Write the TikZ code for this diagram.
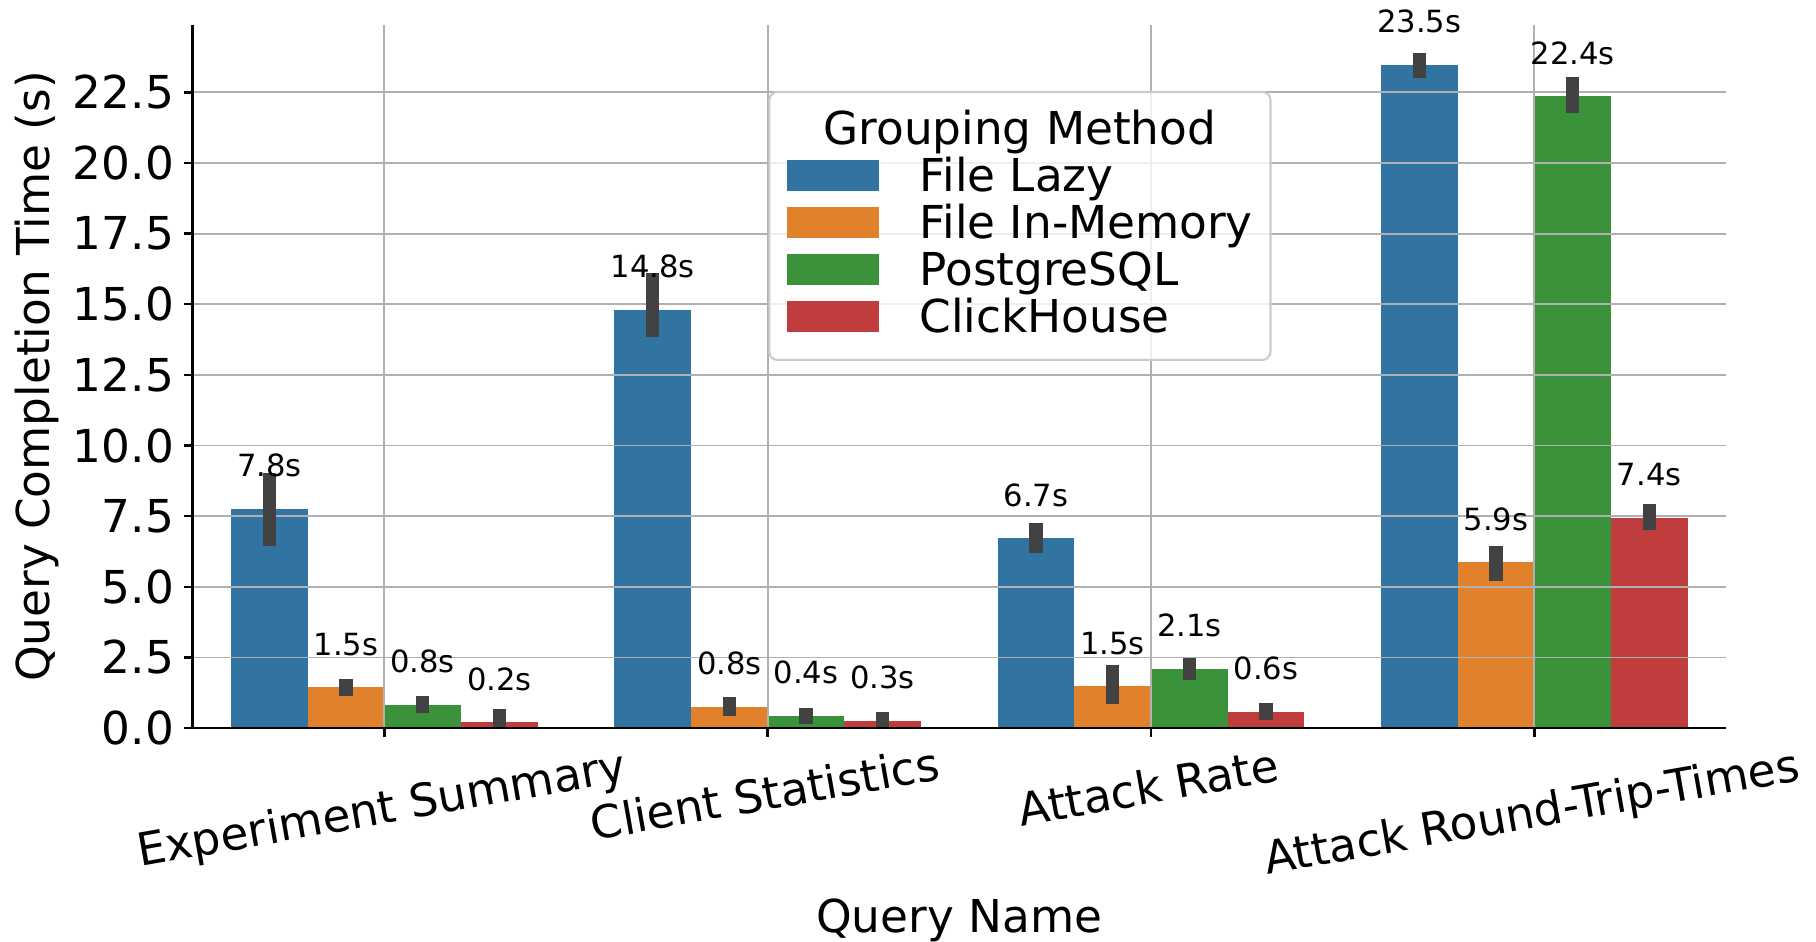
\documentclass[tikz,border=0pt]{standalone}
\usepackage{fontspec}
\setmainfont{DejaVu Sans}
\usepackage{tikz}
\usetikzlibrary{positioning,calc}
\usepackage{xcolor}

\definecolor{lazyblue}{HTML}{3274A1}
\definecolor{memorange}{HTML}{E1812C}
\definecolor{pggreen}{HTML}{3A923A}
\definecolor{chred}{HTML}{C03D3E}
\definecolor{errgray}{HTML}{424242}
\definecolor{gridgray}{HTML}{B0B0B0}
\newcommand{\bigtxt}{\fontsize{12.9}{15.5}\selectfont}
\newcommand{\smalltxt}{\fontsize{8.7}{10.4}\selectfont}
% x / value / ci low / ci high / label / colour
\newcommand{\querybars}{%
  -0.3/7.76/6.44/9.04/7.8s/lazyblue, -0.1/1.45/1.13/1.72/1.5s/memorange,
  0.1/0.83/0.52/1.14/0.8s/pggreen, 0.3/0.21/0/0.66/0.2s/chred,
  0.7/14.80/13.83/16.12/14.8s/lazyblue, 0.9/0.76/0.42/1.10/0.8s/memorange,
  1.1/0.44/0.14/0.71/0.4s/pggreen, 1.3/0.26/0/0.55/0.3s/chred,
  1.7/6.72/6.21/7.25/6.7s/lazyblue, 1.9/1.47/0.86/2.24/1.5s/memorange,
  2.1/2.10/1.71/2.47/2.1s/pggreen, 2.3/0.57/0.28/0.88/0.6s/chred,
  2.7/23.47/23.02/23.90/23.5s/lazyblue, 2.9/5.87/5.20/6.43/5.9s/memorange,
  3.1/22.36/21.76/23.06/22.4s/pggreen, 3.3/7.44/7.00/7.92/7.4s/chred}

\begin{document}
\begin{tikzpicture}[x=3.833cm, y=0.2825cm,
    gridln/.style={gridgray, line width=0.5pt},
    spine/.style={black, line width=0.7pt},
    errbar/.style={errgray, line width=3.8pt},
    ticklbl/.style={font=\bigtxt, inner sep=0pt},
    vallbl/.style={font=\smalltxt, inner sep=0pt, anchor=base, yshift=0.32cm}]
    \useasboundingbox (-1.0026,-7.540) rectangle (3.7350,25.770);
    % bars
    \foreach \x/\v/\lo/\hi/\t/\c in \querybars
        \fill[\c] (\x-0.1,0) rectangle (\x+0.1,\v);
    % grid lies over the bars
    \foreach \y in {2.5,5,...,22.5}
        \draw[gridln] (-0.5,\y) -- (3.5,\y);
    \foreach \x in {0,...,3}
        \draw[gridln] (\x,0) -- (\x,24.88);
    % confidence intervals and value labels
    \foreach \x/\v/\lo/\hi/\t/\c [count=\n] in \querybars {
        \draw[errbar] (\x,\lo) -- (\x,\hi);
        \node[vallbl] (val\n) at (\x,\v) {\t};
    }
    % axes
    \draw[spine] (-0.5,24.88) -- (-0.5,0) -- (3.5,0);
    \foreach \y/\l [count=\k] in {0/0.0,2.5/2.5,5/5.0,7.5/7.5,10/10.0,12.5/12.5,15/15.0,17.5/17.5,20/20.0,22.5/22.5} {
        \draw[spine] (-0.5,\y) -- ++(-0.09cm,0);
        \node[ticklbl, anchor=east, xshift=-0.18cm] (ytick\k) at (-0.5,\y) {\l};
    }
    \foreach \x/\d/\l [count=\k] in {0/3.388/Experiment Summary, 1/2.90/Client Statistics,
            2/2.673/Attack Rate, 3/3.52/Attack Round-Trip-Times} {
        \draw[spine] (\x,0) -- ++(0,-0.09cm);
        \node[ticklbl, anchor=base, rotate=10] (xtick\k) at (\x,-\d) {\l};
    }
    \node[ticklbl, anchor=base] (xname) at (1.5,-7.221) {Query Name};
    \node[ticklbl, anchor=base, rotate=90] (yname) at (-0.8722,12.44) {Query Completion Time (s)};
    % legend
    \begin{scope}[shift={(1.0044,22.513)}, x=0.01cm, y=-0.01cm]
        \draw[black!20, fill=white, fill opacity=0.8, rounded corners=0.08cm, line width=0.6pt]
            (0,0) rectangle (501.4,268);
        \node[ticklbl, anchor=base] (legtitle) at (250.7,53) {Grouping Method};
        \foreach \c/\t [count=\k] in {lazyblue/File Lazy, memorange/File In-Memory,
                pggreen/PostgreSQL, chred/ClickHouse} {
            \fill[\c] (18,{68+46.9*(\k-1)}) rectangle (109.4,{99+46.9*(\k-1)});
            \node[ticklbl, anchor=base west] (leg\k) at (149.7,{99.7+46.9*(\k-1)}) {\t};
        }
    \end{scope}
\end{tikzpicture}
\end{document}
